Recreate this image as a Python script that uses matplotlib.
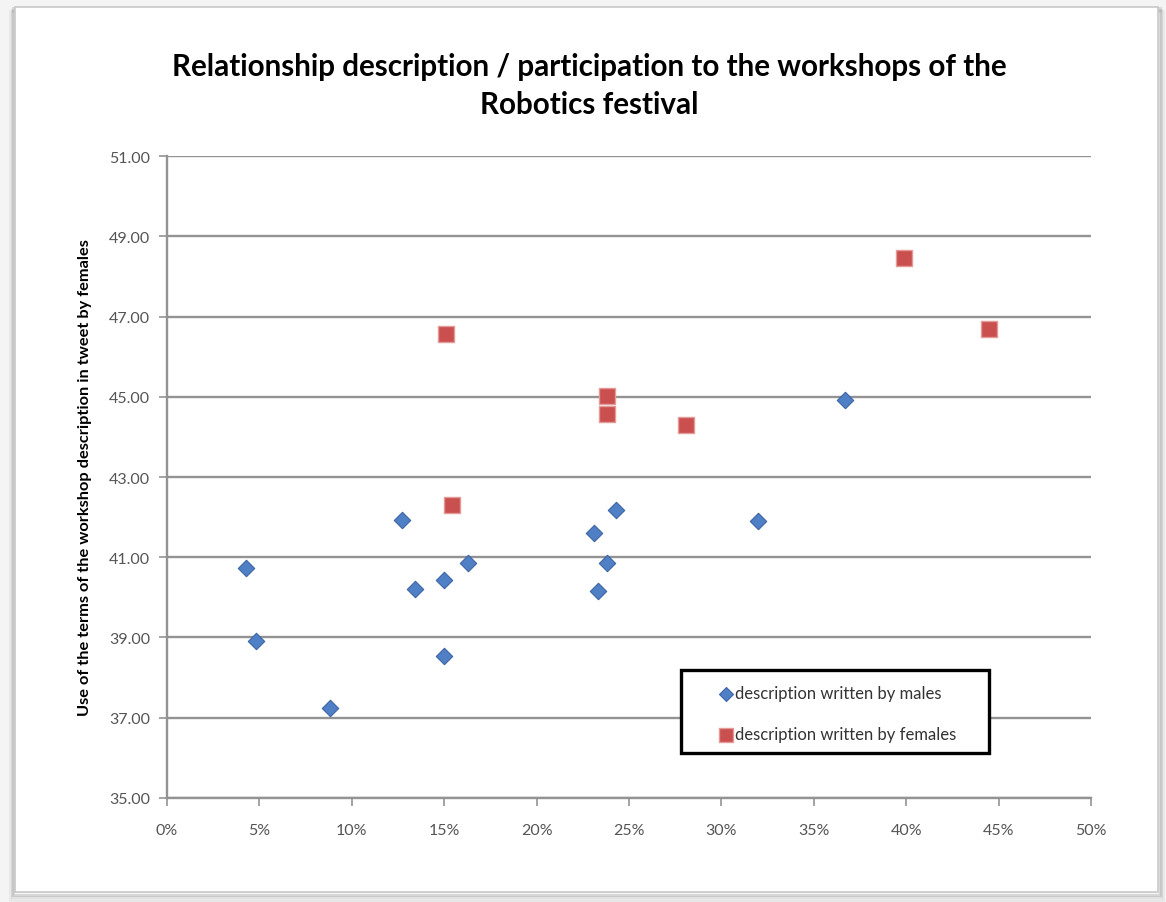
import numpy as np
import matplotlib.pyplot as plt
from matplotlib.patches import Rectangle
from matplotlib.ticker import FuncFormatter

# share of participants (%) vs. use of workshop terms in tweets by females
male_pct = [4.3, 4.8, 8.8, 12.7, 13.4, 15.0, 15.0, 16.3, 23.1, 23.3, 23.8, 24.3, 32.0, 36.7]
male_use = [40.73, 38.91, 37.24, 41.92, 40.21, 40.44, 38.54, 40.86, 41.61, 40.17, 40.86, 42.19, 41.91, 44.91]

female_pct = [15.1, 15.4, 23.8, 23.8, 28.1, 39.9, 44.5]
female_use = [46.56, 42.31, 45.01, 44.58, 44.30, 48.47, 46.70]

title = 'Relationship description / participation to the workshops of the\nRobotics festival'
ylabel = 'Use of the terms of the workshop description in tweet by females'
legend_labels = ['description written by males', 'description written by females']

plt.rcParams['font.family'] = ['Lato', 'DejaVu Sans']

fig = plt.figure(figsize=(11.66, 9.03), dpi=100)
fig.patch.set_facecolor('#f4f4f4')

# white page with a soft drop shadow
for i, a in enumerate([0.05, 0.08, 0.12]):
    d = 0.003 * (3 - i)
    fig.patches.append(Rectangle((0.013 - d / 2, 0.011 - d), 0.980 + d, 0.980 + d / 2,
                                 transform=fig.transFigure, facecolor='none',
                                 edgecolor='black', alpha=a, linewidth=2, zorder=-2))
fig.patches.append(Rectangle((0.013, 0.011), 0.980, 0.980, transform=fig.transFigure,
                             facecolor='white', edgecolor='#c8c8c8', linewidth=1.2, zorder=-1))

ax = fig.add_axes([0.1432, 0.1152, 0.7925, 0.7109])
ax.set_facecolor('none')

ax.scatter(male_pct, male_use, marker='D', s=70, color='#4f7fc4', edgecolors='#3d64a6',
           linewidths=0.8, zorder=3, label=legend_labels[0])
ax.scatter(female_pct, female_use, marker='s', s=125, color='#c9504e', edgecolors='#e49a98',
           linewidths=1.0, zorder=3, label=legend_labels[1])

ax.set_xlim(0, 50)
ax.set_ylim(35, 51)
ax.set_xticks(np.arange(0, 51, 5))
ax.set_yticks(np.arange(35, 52, 2))
ax.xaxis.set_major_formatter(FuncFormatter(lambda v, p: f'{v:.0f}%'))
ax.yaxis.set_major_formatter(FuncFormatter(lambda v, p: f'{v:.2f}'))

ax.grid(axis='y', color='#939393', linewidth=1.7, zorder=1)
ax.set_axisbelow(True)
for side in ['top', 'right']:
    ax.spines[side].set_visible(False)
for side in ['left', 'bottom']:
    ax.spines[side].set_color('#939393')
    ax.spines[side].set_linewidth(1.7)
ax.tick_params(axis='both', direction='out', length=6, width=1.2, color='#939393',
               labelcolor='#555555', labelsize=11.5)
ax.tick_params(axis='x', pad=12)
ax.tick_params(axis='y', pad=6)

ax.set_ylabel(ylabel, fontsize=11.8, fontweight='bold', labelpad=12)
fig.text(0.505, 0.905, title, ha='center', va='center', fontsize=21.3,
         fontweight='bold', linespacing=1.45)

# legend: hand-drawn black frame, borderless legend inside it
ax.add_patch(Rectangle((0.5563, 0.0701), 0.3333, 0.1293, transform=ax.transAxes,
                       facecolor='white', edgecolor='black', linewidth=2.4, zorder=4))
leg = ax.legend(loc='upper left', bbox_to_anchor=(0.596, 0.176), frameon=False,
                fontsize=12, handletextpad=0.05, borderpad=0, labelspacing=1.5,
                handlelength=1.0, borderaxespad=0, markerscale=0.85)
leg.set_zorder(5)
for t in leg.get_texts():
    t.set_color('#333333')

fig.savefig('out.png', dpi=100)
